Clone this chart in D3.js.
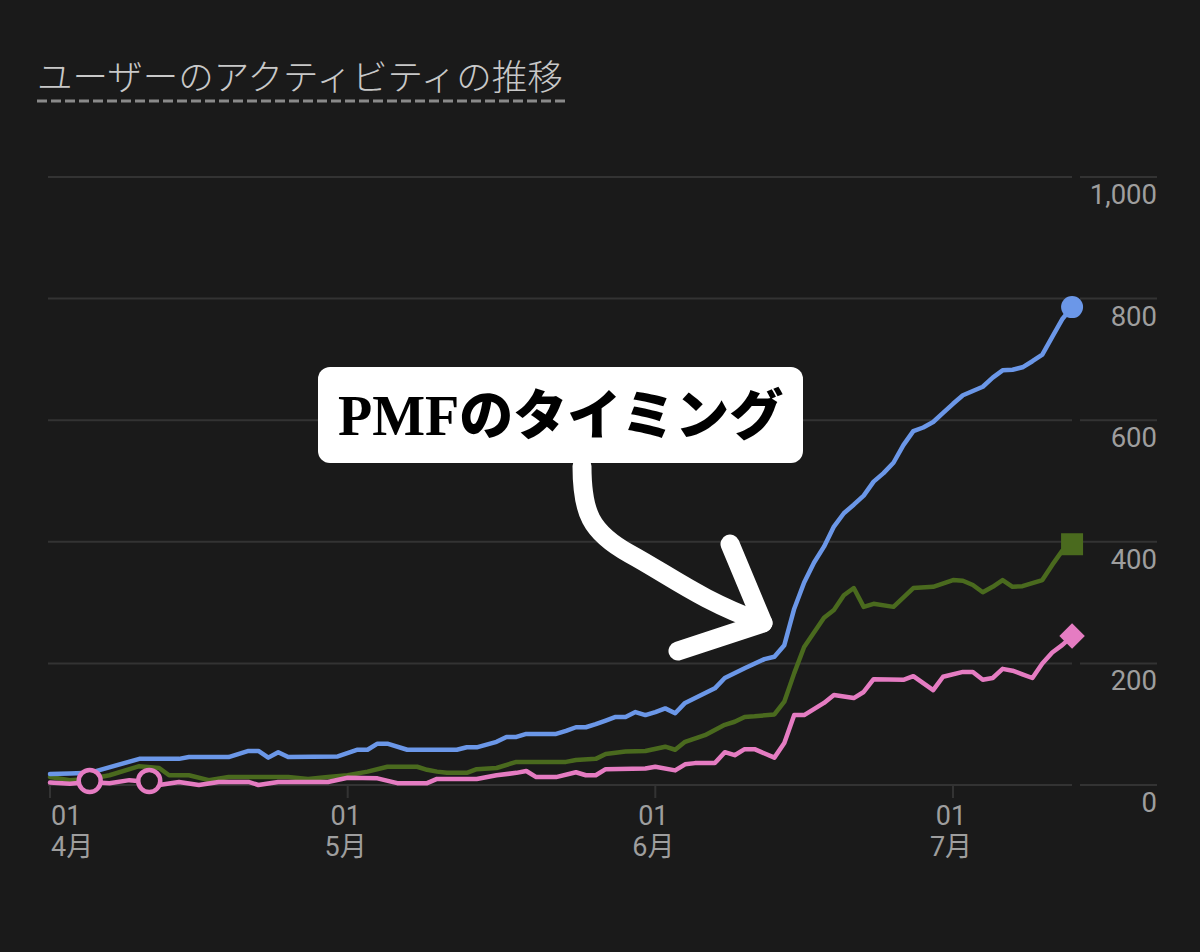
<!DOCTYPE html>
<html>
<head>
<meta charset="utf-8">
<script src="https://cdn.jsdelivr.net/npm/d3@7"></script>
<style>
  html, body { margin: 0; padding: 0; background: #1a1a1a; }
  svg { display: block; }
</style>
</head>
<body>
<div id="chart"></div>
<script>
// Data (daily values, dates as MM-DD in one year)
var blueDates = ["04-01","04-03","04-05","04-10","04-14","04-15","04-19","04-21","04-22","04-23","04-24","04-25","04-30",
  "05-02","05-03","05-04","05-05","05-07","05-12","05-13","05-14","05-16","05-17","05-18","05-19","05-22","05-23","05-24",
  "05-25","05-26","05-27","05-28","05-29","05-30","05-31","06-01","06-02","06-03","06-04","06-07","06-08","06-10","06-12",
  "06-13","06-14","06-15","06-16","06-17","06-18","06-19","06-20","06-21","06-22","06-23","06-24","06-25","06-26","06-27",
  "06-28","06-29","06-30","07-01","07-02","07-03","07-04","07-05","07-06","07-07","07-08","07-09","07-10","07-11","07-12","07-13"];
var blueValues = [18,19,20,43,43,46,46,56,56,45,54,46,47,
  58,58,68,68,58,58,62,62,71,79,79,84,84,89,95,
  95,100,106,112,112,120,115,120,126,118,135,159,176,192,207,
  211,230,290,333,366,392,425,447,461,476,499,513,530,559,582,
  588,597,612,627,641,648,655,670,682,683,687,697,708,737,766,786];

var greenDates = ["04-01","04-03","04-05","04-07","04-10","04-12","04-13","04-15","04-17","04-19","04-25","04-27","04-29",
  "05-01","05-03","05-05","05-08","05-09","05-10","05-11","05-13","05-14","05-16","05-18","05-23","05-24","05-26","05-27",
  "05-28","05-29","05-31","06-02","06-03","06-04","06-06","06-08","06-09","06-10","06-11","06-13","06-14","06-15","06-16",
  "06-18","06-19","06-20","06-21","06-22","06-23","06-25","06-27","06-29","07-01","07-02","07-03","07-04","07-05","07-06",
  "07-07","07-08","07-10","07-11","07-12","07-13"];
var greenValues = [13,8,10,16,31,28,16,16,8,13,13,10,13,
  16,22,30,30,25,22,20,20,26,28,38,38,41,43,51,
  53,55,56,63,58,71,82,99,104,112,113,116,137,184,227,
  275,288,312,324,293,298,293,324,326,337,336,329,317,326,337,
  326,327,337,362,385,396];

var pinkDates = ["04-01","04-03","04-05","04-07","04-09","04-11","04-12","04-14","04-16","04-18","04-21","04-22","04-24","04-29",
  "05-01","05-04","05-06","05-09","05-10","05-14","05-16","05-18","05-19","05-20","05-22","05-24","05-25","05-26","05-27","05-31",
  "06-01","06-03","06-04","06-05","06-07","06-08","06-09","06-10","06-11","06-13","06-14","06-15","06-16","06-18","06-19",
  "06-21","06-22","06-23","06-26","06-27","06-29","06-30","07-02","07-03","07-04","07-05","07-06","07-07","07-08","07-09",
  "07-10","07-11","07-12","07-13"];
var pinkValues = [4,2,5,3,8,5,0,5,0,5,5,0,5,5,
  12,11,3,3,10,10,16,20,23,13,13,21,16,16,26,27,
  30,24,34,36,36,54,49,59,59,45,69,115,115,135,148,
  143,153,174,173,179,156,178,186,186,173,176,191,188,182,176,
  200,218,230,245];

// hollow circle markers on the pink series
var pinkMarkerDates = ["04-05","04-11"];

var yTicks = [0, 200, 400, 600, 800, 1000];
var xTickDates = ["04-01","05-01","06-01","07-01"];
var xTickMonths = ["4月","5月","6月","7月"];

var titleText = "ユーザーのアクティビティの推移";
var noteBold = "PMF";
var noteText = "のタイミング";

function init() {
    var w = 1200;
    var h = 952;
    var bg = "#1a1a1a";
    var gridColor = "#333333";
    var labelColor = "#9e9e9e";

    var parse = d3.timeParse("%Y-%m-%d");
    function toDate(s) { return parse("2023-" + s); }

    var svg = d3.select("#chart")
                .append("svg")
                .attr("width", w)
                .attr("height", h)
                .style("background", bg);

    // scales: April 1 -> July 1 spans 50..953 px
    var x = d3.scaleTime()
              .domain([toDate("04-01"), toDate("07-01")])
              .range([50, 953]);
    var y = d3.scaleLinear()
              .domain([0, 1000])
              .range([785, 177]);

    // title with dashed underline
    svg.append("text")
       .attr("x", 37)
       .attr("y", 90)
       .attr("font-family", "'Noto Sans CJK JP', sans-serif")
       .attr("font-size", 35.5)
       .attr("font-weight", 300)
       .attr("fill", "#c8c8c8")
       .text(titleText);
    svg.append("line")
       .attr("x1", 37).attr("x2", 568)
       .attr("y1", 101).attr("y2", 101)
       .attr("stroke", "#8a8a8a")
       .attr("stroke-width", 3)
       .attr("stroke-dasharray", "10,4");

    // horizontal gridlines, plus the short segment under each value label
    var grid = svg.append("g");
    grid.selectAll("line.main")
        .data(yTicks)
        .enter()
        .append("line")
        .attr("class", "main")
        .attr("x1", 48).attr("x2", 1072)
        .attr("y1", d => y(d)).attr("y2", d => y(d))
        .attr("stroke", gridColor)
        .attr("stroke-width", 2);
    grid.selectAll("line.side")
        .data(yTicks)
        .enter()
        .append("line")
        .attr("class", "side")
        .attr("x1", 1080).attr("x2", 1157)
        .attr("y1", d => y(d)).attr("y2", d => y(d))
        .attr("stroke", gridColor)
        .attr("stroke-width", 2);

    // y labels sit just under their gridline, right aligned
    svg.selectAll("text.ylab")
       .data(yTicks)
       .enter()
       .append("text")
       .attr("class", "ylab")
       .attr("x", 1157)
       .attr("y", d => y(d) + 27)
       .attr("text-anchor", "end")
       .attr("font-family", "Roboto, sans-serif")
       .attr("font-size", 27.5)
       .attr("fill", labelColor)
       .text(d3.format(","));

    // x ticks and two-line labels
    var xt = svg.append("g")
                .selectAll("g")
                .data(xTickDates)
                .enter()
                .append("g")
                .attr("transform", d => "translate(" + x(toDate(d)) + ",0)");
    xt.append("line")
      .attr("y1", 785).attr("y2", 798)
      .attr("stroke", gridColor)
      .attr("stroke-width", 2);
    xt.append("text")
      .attr("x", (d, i) => i === 0 ? 1 : -2)
      .attr("y", 825)
      .attr("text-anchor", (d, i) => i === 0 ? "start" : "middle")
      .attr("font-family", "Roboto, sans-serif")
      .attr("font-size", 27)
      .attr("fill", labelColor)
      .text("01");
    xt.append("text")
      .attr("x", (d, i) => i === 0 ? 1 : -2)
      .attr("y", 856)
      .attr("text-anchor", (d, i) => i === 0 ? "start" : "middle")
      .attr("font-family", "Roboto, 'Noto Sans CJK JP', sans-serif")
      .attr("font-size", 27)
      .attr("fill", labelColor)
      .text((d, i) => xTickMonths[i]);

    // series
    var series = [
        { dates: greenDates, values: greenValues, color: "#4a6a1e" },
        { dates: blueDates,  values: blueValues,  color: "#6b97e8" },
        { dates: pinkDates,  values: pinkValues,  color: "#e57cc2" }
    ];

    var line = d3.line()
                 .x(d => x(d[0]))
                 .y(d => y(d[1]));

    series.forEach(function(s) {
        var pts = s.dates.map((d, i) => [toDate(d), s.values[i]]);
        s.last = pts[pts.length - 1];
        svg.append("path")
           .datum(pts)
           .attr("d", line)
           .attr("fill", "none")
           .attr("stroke", s.color)
           .attr("stroke-width", 4.5)
           .attr("stroke-linejoin", "round")
           .attr("stroke-linecap", "round");
    });

    // end markers: square (green), circle (blue), diamond (pink)
    var g = series[0], b = series[1], p = series[2];
    svg.append("rect")
       .attr("x", x(g.last[0]) - 11)
       .attr("y", y(g.last[1]) - 11)
       .attr("width", 22).attr("height", 22)
       .attr("fill", g.color);
    svg.append("circle")
       .attr("cx", x(b.last[0]))
       .attr("cy", y(b.last[1]))
       .attr("r", 11)
       .attr("fill", b.color);
    svg.append("path")
       .attr("transform", "translate(" + x(p.last[0]) + "," + y(p.last[1]) + ") rotate(45)")
       .attr("d", "M-9,-9H9V9H-9Z")
       .attr("fill", p.color);

    // hollow markers on the pink line
    svg.selectAll("circle.pm")
       .data(pinkMarkerDates)
       .enter()
       .append("circle")
       .attr("class", "pm")
       .attr("cx", d => x(toDate(d)))
       .attr("cy", d => y(pinkValues[pinkDates.indexOf(d)]) - 1)
       .attr("r", 11)
       .attr("fill", bg)
       .attr("stroke", p.color)
       .attr("stroke-width", 4.5);

    // annotation callout
    var note = svg.append("g");
    note.append("rect")
        .attr("x", 318).attr("y", 367)
        .attr("width", 485).attr("height", 96)
        .attr("rx", 12)
        .attr("fill", "#ffffff");
    var t = note.append("text")
        .attr("x", 338)
        .attr("y", 435)
        .attr("fill", "#000000");
    t.append("tspan")
     .attr("font-family", "'Liberation Serif', serif")
     .attr("font-weight", 700)
     .attr("font-size", 56)
     .text(noteBold);
    t.append("tspan")
     .attr("font-family", "'Noto Sans CJK JP', sans-serif")
     .attr("font-weight", 900)
     .attr("font-size", 54)
     .text(noteText);

    // hand drawn arrow
    note.append("path")
        .attr("d", "M582,466 C582,512 590,532 630,554 C672,577 700,600 763,623")
        .attr("fill", "none")
        .attr("stroke", "#ffffff")
        .attr("stroke-width", 19)
        .attr("stroke-linecap", "round")
        .attr("stroke-linejoin", "round");
    note.append("path")
        .attr("d", "M730,544 L763,623 L678,651")
        .attr("fill", "none")
        .attr("stroke", "#ffffff")
        .attr("stroke-width", 19)
        .attr("stroke-linecap", "round")
        .attr("stroke-linejoin", "round");
}

window.onload = init;
</script>
</body>
</html>
